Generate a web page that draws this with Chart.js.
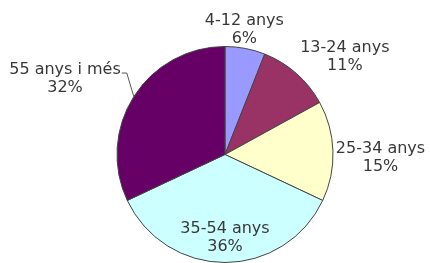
<!DOCTYPE html>
<html>
<head>
<meta charset="utf-8">
<script src="https://cdn.jsdelivr.net/npm/chart.js@4/dist/chart.umd.min.js"></script>
<style>
  html, body { margin: 0; padding: 0; background: #fff; }
  #wrap { width: 430px; height: 263px; position: relative; }
</style>
</head>
<body>
<div id="wrap"><canvas id="pie"></canvas></div>
<script>
// age groups and their share (%)
const ageGroups = ['4-12 anys', '13-24 anys', '25-34 anys', '35-54 anys', '55 anys i més'];
const shares = [6, 11, 15, 36, 32];
const sliceColors = ['#9999FF', '#993366', '#FFFFCC', '#CCFFFF', '#660066'];

// where each label sits: distance from centre (x radius) and angle shift (deg)
const labelPlace = [
  { k: 1.17, dA: -2 },
  { k: 1.43, dA: 9.5 },
  { k: 1.44, dA: 3 },
  { k: 0.77, dA: 0 },
  { k: 1.64, dA: -7, leader: true },
];

const pieLabels = {
  id: 'pieLabels',
  afterDatasetsDraw(chart) {
    const ctx = chart.ctx;
    const arcs = chart.getDatasetMeta(0).data;
    ctx.save();
    ctx.font = '16px "DejaVu Sans"';
    ctx.fillStyle = '#383838';
    ctx.textAlign = 'center';
    ctx.textBaseline = 'middle';
    arcs.forEach((arc, i) => {
      const p = arc.getProps(['x', 'y', 'startAngle', 'endAngle', 'outerRadius'], true);
      const mid = (p.startAngle + p.endAngle) / 2;
      const pl = labelPlace[i];
      const a = mid + pl.dA * Math.PI / 180;
      const cx = p.x + Math.cos(a) * p.outerRadius * pl.k;
      const cy = p.y + Math.sin(a) * p.outerRadius * pl.k;
      ctx.fillText(ageGroups[i], cx, cy - 9);
      ctx.fillText(shares[i] + '%', cx, cy + 9);
      if (pl.leader) {
        const w = ctx.measureText(ageGroups[i]).width;
        const ex = p.x + Math.cos(mid) * p.outerRadius;
        const ey = p.y + Math.sin(mid) * p.outerRadius;
        ctx.strokeStyle = '#555';
        ctx.lineWidth = 1;
        ctx.beginPath();
        ctx.moveTo(cx + w / 2 + 1, cy - 5.5);
        ctx.lineTo(cx + w / 2 + 6, cy - 5.5);
        ctx.lineTo(ex, ey);
        ctx.stroke();
      }
    });
    ctx.restore();
  }
};

new Chart(document.getElementById('pie'), {
  type: 'pie',
  data: {
    labels: ageGroups,
    datasets: [{
      data: shares,
      backgroundColor: sliceColors,
      borderColor: '#444',
      borderWidth: 1,
    }],
  },
  options: {
    responsive: true,
    maintainAspectRatio: false,
    animation: false,
    layout: { padding: { top: 46, bottom: 0, left: 20, right: 0 } },
    plugins: {
      legend: { display: false },
      tooltip: { enabled: false },
    },
  },
  plugins: [pieLabels],
});
</script>
</body>
</html>
